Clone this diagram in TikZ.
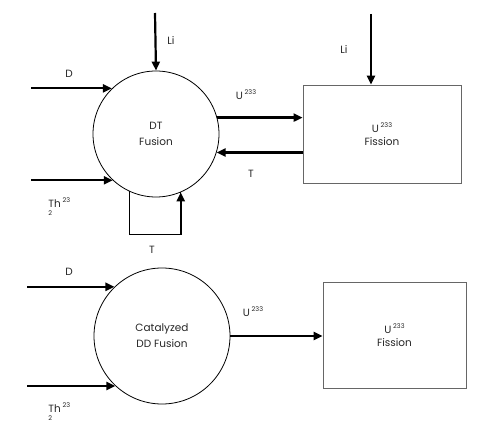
\documentclass[tikz,border=0pt]{standalone}
\usepackage{fontspec}
\setmainfont{Poppins}
\usetikzlibrary{arrows.meta}
\tikzset{
  flow/.style={line width=2.2pt, -{Triangle[length=9pt,width=8pt]}},
  proc/.style={circle, draw, line width=0.8pt, minimum size=126pt, inner sep=0pt, align=center},
  plant/.style={rectangle, draw=black!60, line width=0.8pt, inner sep=0pt, align=center},
  lbl/.style={font=\fontsize{10.5}{13}\selectfont, text=black!85, inner sep=1pt, align=center}
}
\newcommand{\iso}[2]{#1\,\raisebox{0.9ex}{\fontsize{6.5}{7}\selectfont #2}}
\newcommand{\thor}{\begin{tabular}{@{}l@{}}\iso{Th}{23}\\[-5pt]{\fontsize{6.5}{7}\selectfont 2}\end{tabular}}
\begin{document}
\begin{tikzpicture}[x=1pt, y=-1pt, line width=0.8pt]
  \useasboundingbox (0,0) rectangle (488,438);
  % upper chain
  \node[proc, lbl] (dt) at (156,134) {DT\\[3pt]Fusion};
  \node[plant, lbl, minimum width=158pt, minimum height=98pt] (fisA) at (382,134) {\iso{U}{233}\\Fission};
  \coordinate (liA) at (155,13);
  \coordinate (liB) at (371,14);
  \coordinate (srcA) at (31,0);
  \coordinate (loopA) at (0,235);
  \draw[flow] (liA) -- (dt.north);
  \draw[flow] (liB) -- (liB |- fisA.north);
  \draw[flow] (dt.134 -| srcA) -- (dt.134);
  \draw[flow] (dt.227 -| srcA) -- (dt.227);
  \draw[flow] (dt.15) -- (dt.15 -| fisA.west);
  \draw[flow] (dt.-17 -| fisA.west) -- (dt.-17);
  \draw[line width=1pt] (dt.245) -- (dt.245 |- loopA) -| (dt.293);
  \draw[flow] (dt.293 |- loopA) -- (dt.293);
  \node[lbl] (liAlbl) at (171,41) {Li};
  \node[lbl] (liBlbl) at (344,50) {Li};
  \node[lbl] (dAlbl) at (69,74) {D};
  \node[lbl, anchor=north west] (thAlbl) at (47,196) {\thor};
  \node[lbl] (uAlbl) at (246,95) {\iso{U}{233}};
  \node[lbl] (tAlbl) at (251,174) {T};
  \node[lbl] (tBlbl) at (152,250) {T};
  % lower chain
  \node[proc, lbl, minimum size=136pt] (dd) at (162,336) {Catalyzed\\[3pt]DD Fusion};
  \node[plant, lbl, minimum width=143pt, minimum height=106pt] (fisB) at (394.5,335) {\iso{U}{233}\\Fission};
  \coordinate (srcB) at (27,0);
  \draw[flow] (dd.134 -| srcB) -- (dd.134);
  \draw[flow] (dd.227 -| srcB) -- (dd.227);
  \draw[flow] (dd.east) -- (dd.east -| fisB.west);
  \node[lbl] (dBlbl) at (69,272) {D};
  \node[lbl, anchor=north west] (thBlbl) at (47,401) {\thor};
  \node[lbl] (uBlbl) at (253,312) {\iso{U}{233}};
\end{tikzpicture}
\end{document}
